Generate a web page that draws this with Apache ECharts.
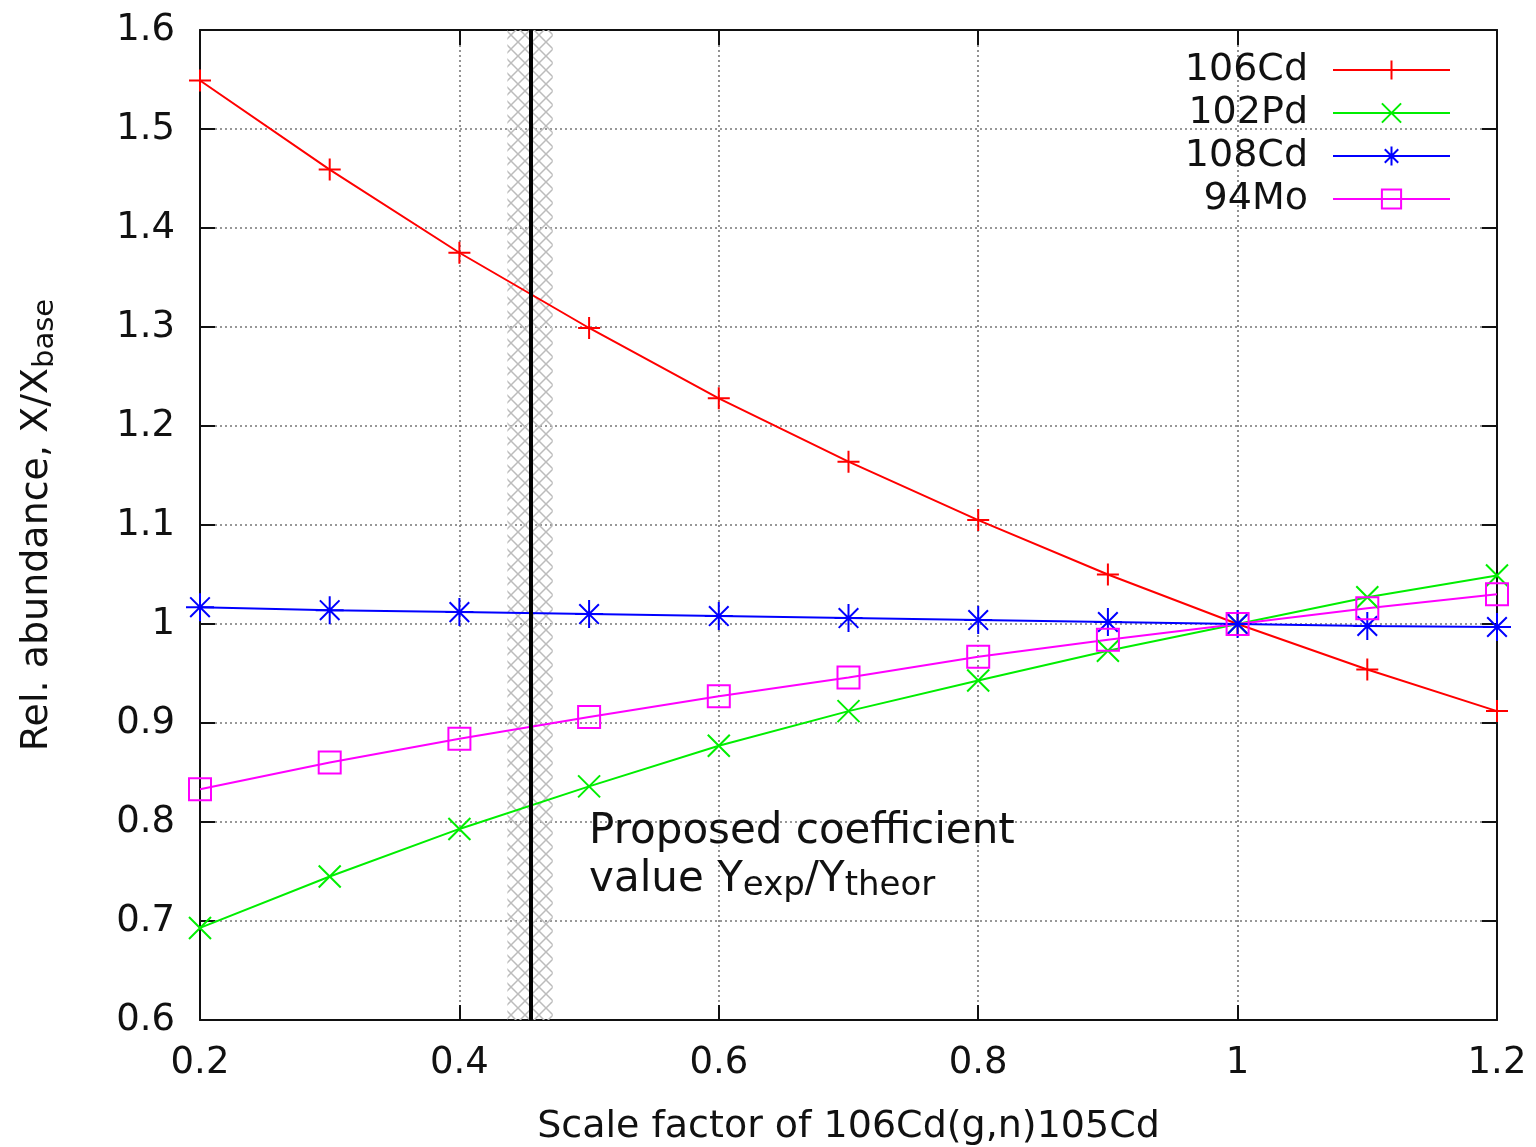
<!DOCTYPE html>
<html>
<head>
<meta charset="utf-8">
<script src="https://cdn.jsdelivr.net/npm/echarts@6/dist/echarts.min.js"></script>
<style>
  html, body { margin: 0; padding: 0; background: #fff; }
  #main { width: 1536px; height: 1147px; }
</style>
</head>
<body>
<div id="main"></div>
<script>
// scale factors on the x axis
const scale = [0.2, 0.3, 0.4, 0.5, 0.6, 0.7, 0.8, 0.9, 1.0, 1.1, 1.2];

// relative abundances
const cd106 = [1.549, 1.459, 1.375, 1.299, 1.228, 1.164, 1.105, 1.050, 1.000, 0.954, 0.912];
const pd102 = [0.693, 0.745, 0.793, 0.836, 0.877, 0.912, 0.943, 0.973, 1.000, 1.027, 1.049];
const cd108 = [1.017, 1.014, 1.012, 1.010, 1.008, 1.006, 1.004, 1.002, 1.000, 0.998, 0.997];
const mo94  = [0.833, 0.860, 0.884, 0.906, 0.927, 0.946, 0.967, 0.984, 1.000, 1.016, 1.030];

// proposed coefficient and its uncertainty band
const proposed = 0.455;
const band = [0.437, 0.472];

const font = 'DejaVu Sans';
const txt = '#111';

function pairs(ys) {
  return scale.map((x, i) => [x, ys[i]]);
}

// cross-hatch fill for the band
function hatch() {
  const c = document.createElement('canvas');
  c.width = 14; c.height = 14;
  const g = c.getContext('2d');
  g.strokeStyle = '#bcbcbc';
  g.lineWidth = 1.5;
  g.beginPath();
  g.moveTo(0, 0); g.lineTo(14, 14);
  g.moveTo(14, 0); g.lineTo(0, 14);
  g.stroke();
  return c;
}

const PLUS = 'path://M0 10L20 10M10 0L10 20';
const CROSS = 'path://M0 0L20 20M20 0L0 20';
const STAR = 'path://M0 10L20 10M10 0L10 20M3 3L17 17M17 3L3 17';

function lineSeries(name, ys, color, symbol, size) {
  return {
    name: name,
    type: 'line',
    data: pairs(ys),
    symbol: symbol,
    symbolSize: size,
    showAllSymbol: true,
    lineStyle: { color: color, width: 2 },
    itemStyle: { color: 'rgba(0,0,0,0)', borderColor: color, borderWidth: 2 },
    emphasis: { disabled: true },
    z: 3
  };
}

const splitLine = { show: true, lineStyle: { color: '#777', width: 1.6, type: [2, 3] } };
const axisLine = { show: true, onZero: false, lineStyle: { color: '#111', width: 2 } };
const tick = { show: true, inside: true, length: 15, lineStyle: { color: '#111', width: 2 } };

const chart = echarts.init(document.getElementById('main'));
chart.setOption({
  animation: false,
  backgroundColor: '#fff',
  textStyle: { fontFamily: font },
  grid: { left: 200, right: 39, top: 30, bottom: 127, outerBoundsMode: 'none', containLabel: false },
  legend: {
    data: ['106Cd', '102Pd', '108Cd', '94Mo'],
    orient: 'vertical',
    align: 'right',
    right: 80,
    top: 46,
    itemWidth: 117,
    itemHeight: 24,
    itemGap: 5,
    selectedMode: false,
    textStyle: { fontFamily: font, fontSize: 38, color: txt, padding: [0, 20, 0, 0] }
  },
  xAxis: [
    {
      type: 'value',
      min: 0.2, max: 1.2, interval: 0.2,
      name: 'Scale factor of 106Cd(g,n)105Cd',
      nameLocation: 'middle',
      nameGap: 88,
      nameTextStyle: { fontFamily: font, fontSize: 38, color: txt },
      axisLine: axisLine,
      axisTick: tick,
      axisLabel: { fontFamily: font, fontSize: 37, color: txt, margin: 25 },
      splitLine: splitLine
    },
    {
      type: 'value', position: 'top',
      min: 0.2, max: 1.2, interval: 0.2,
      axisLine: axisLine, axisTick: tick,
      axisLabel: { show: false }, splitLine: { show: false }
    }
  ],
  yAxis: [
    {
      type: 'value',
      min: 0.6, max: 1.6, interval: 0.1,
      name: '{m|Rel. abundance, X/X}{s|base}',
      nameLocation: 'middle',
      nameRotate: 90,
      nameGap: 140,
      nameTextStyle: {
        rich: {
          m: { fontFamily: font, fontSize: 38, color: txt, lineHeight: 46, verticalAlign: 'middle' },
          s: { fontFamily: font, fontSize: 29, color: txt, lineHeight: 20, verticalAlign: 'bottom' }
        }
      },
      axisLine: axisLine,
      axisTick: tick,
      axisLabel: { fontFamily: font, fontSize: 37, color: txt, margin: 25 },
      splitLine: splitLine
    },
    {
      type: 'value', position: 'right',
      min: 0.6, max: 1.6, interval: 0.1,
      axisLine: axisLine, axisTick: tick,
      axisLabel: { show: false }, splitLine: { show: false }
    }
  ],
  series: [
    {
      name: 'band',
      type: 'line',
      data: [],
      z: 1,
      silent: true,
      markArea: {
        silent: true,
        itemStyle: { color: { image: hatch(), repeat: 'repeat' } },
        data: [[{ coord: [band[0], 0.6] }, { coord: [band[1], 1.6] }]]
      },
      markLine: {
        silent: true,
        symbol: 'none',
        label: { show: false },
        lineStyle: { color: '#000', width: 4, type: 'solid' },
        data: [[{ coord: [proposed, 0.6] }, { coord: [proposed, 1.6] }]]
      },
      markPoint: {
        symbol: 'circle',
        symbolSize: 0,
        data: [{ coord: [0.5, 0.766] }],
        label: {
          show: true,
          position: 'right',
          distance: 0,
          align: 'left',
          formatter: '{a|Proposed coefficient}\n{a|value Y}{s|exp}{a|/Y}{s|theor}',
          rich: {
            a: { fontFamily: font, fontSize: 42, color: txt, lineHeight: 48, verticalAlign: 'middle' },
            s: { fontFamily: font, fontSize: 34, color: txt, lineHeight: 22, verticalAlign: 'bottom' }
          }
        }
      }
    },
    lineSeries('106Cd', cd106, '#ff0000', PLUS, 22),
    lineSeries('102Pd', pd102, '#00ee00', CROSS, 22),
    lineSeries('108Cd', cd108, '#0000ff', STAR, 28),
    lineSeries('94Mo', mo94, '#ff00ff', 'rect', 22)
  ]
});
</script>
</body>
</html>
